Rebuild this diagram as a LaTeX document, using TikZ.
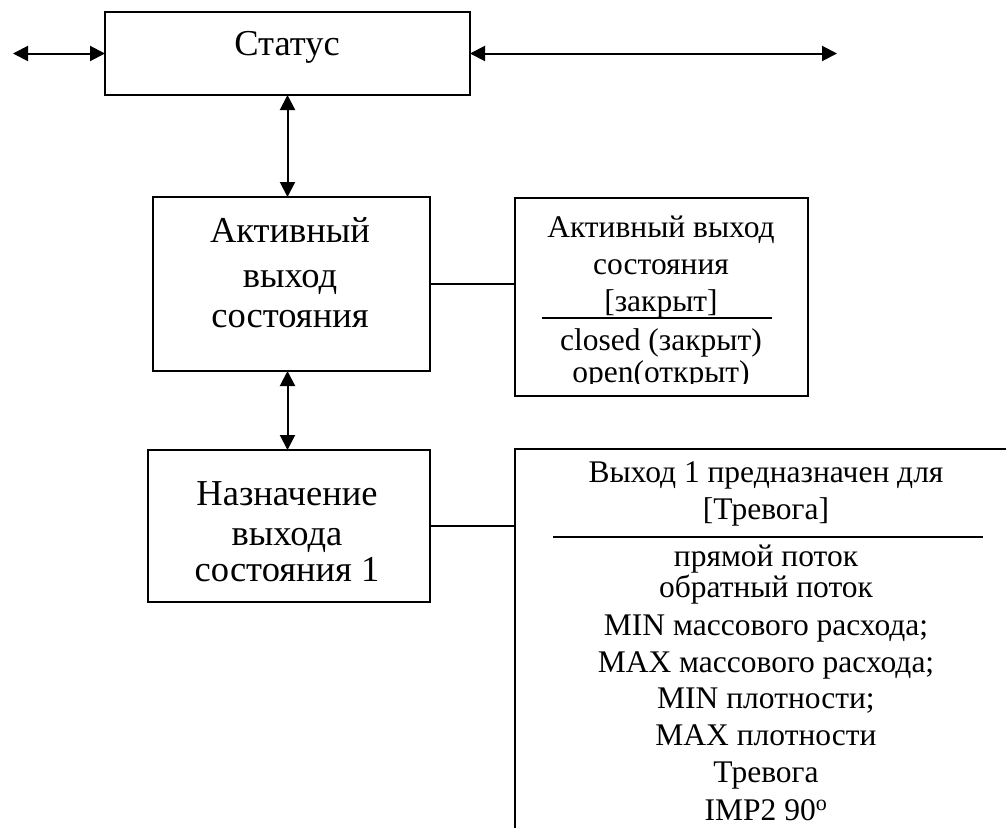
\documentclass[tikz,border=0pt]{standalone}
\usepackage{fontspec}
\setmainfont{Liberation Serif}
\usetikzlibrary{arrows.meta}
\tikzset{
  blk/.style={draw=black, line width=2pt, fill=none, inner sep=0pt, outer sep=0pt},
  arr/.style={line width=2pt, {Triangle[length=15pt,width=15pt]}-{Triangle[length=15pt,width=15pt]}},
  link/.style={line width=1.6pt},
  sepline/.style={line width=1.6pt},
  bigtxt/.style={anchor=base, inner sep=0pt, font=\fontsize{36.5}{42}\selectfont},
  smalltxt/.style={anchor=base, inner sep=0pt, font=\fontsize{31.5}{37}\selectfont}
}
\begin{document}
\begin{tikzpicture}[x=1pt,y=-1pt]
\useasboundingbox (0,0) rectangle (1006,827);
\clip (0,0) rectangle (1006,827);
\fill[white] (0,0) rectangle (1006,827);

% boxes
\node[blk, minimum width=365pt, minimum height=83pt] (status) at (287.5,53.5) {};
\node[blk, minimum width=277pt, minimum height=174pt] (active) at (291.5,284) {};
\node[blk, minimum width=282pt, minimum height=152pt] (assign) at (289,526) {};
\node[blk, minimum width=293pt, minimum height=198pt] (box1) at (661.5,297) {};
\node[blk, anchor=north west, minimum width=540pt, minimum height=440pt] (box2) at (515,449) {};

% texts
\node[bigtxt] (tstatus) at (287,55) {Статус};
\node[bigtxt] (ta1) at (290,242) {Активный};
\node[bigtxt] (ta2) at (290,287) {выход};
\node[bigtxt] (ta3) at (290,327) {состояния};
\node[bigtxt] (tn1) at (287,505) {Назначение};
\node[bigtxt] (tn2) at (287,545) {выхода};
\node[bigtxt] (tn3) at (287,581) {состояния 1};

\node[smalltxt] (b1a) at (661,237) {Активный выход};
\node[smalltxt] (b1b) at (661,274) {состояния};
\node[smalltxt] (b1c) at (661,311) {[закрыт]};
\draw[sepline] (542,318) -- (772,318);
\node[smalltxt] (b1d) at (661,350) {closed (закрыт)};
\begin{scope}
  \clip (515,198) rectangle (808,383);
  \node[smalltxt] (b1e) at (661,382) {open(открыт)};
\end{scope}

\node[smalltxt] (b2a) at (766,482) {Выход 1 предназначен для};
\node[smalltxt] (b2b) at (766,519) {[Тревога]};
\draw[sepline] (553,537) -- (983,537);
\node[smalltxt] (b2c) at (766,566) {прямой поток};
\node[smalltxt] (b2d) at (766,597) {обратный поток};
\node[smalltxt] (b2e) at (766,635) {MIN массового расхода;};
\node[smalltxt] (b2f) at (766,672) {MAX массового расхода;};
\node[smalltxt] (b2g) at (766,708) {MIN плотности;};
\node[smalltxt] (b2h) at (766,745) {MAX плотности};
\node[smalltxt] (b2i) at (766,782) {Тревога};
\node[smalltxt] (b2j) at (766,820) {IMP2 90\textsuperscript{o}};

% connectors
\coordinate (lend) at (13,54);
\coordinate (rend) at (837,54);
\draw[arr] (lend |- status.west) -- (status.west);
\draw[arr] (status.east) -- (rend |- status.east);
\draw[arr] (status.south) -- (status.south |- active.north);
\draw[arr] (status.south |- active.south) -- (status.south |- assign.north);
\draw[link] (active.east) -- (active.east -| box1.west);
\draw[link] (assign.east) -- (assign.east -| box2.west);
\end{tikzpicture}
\end{document}
